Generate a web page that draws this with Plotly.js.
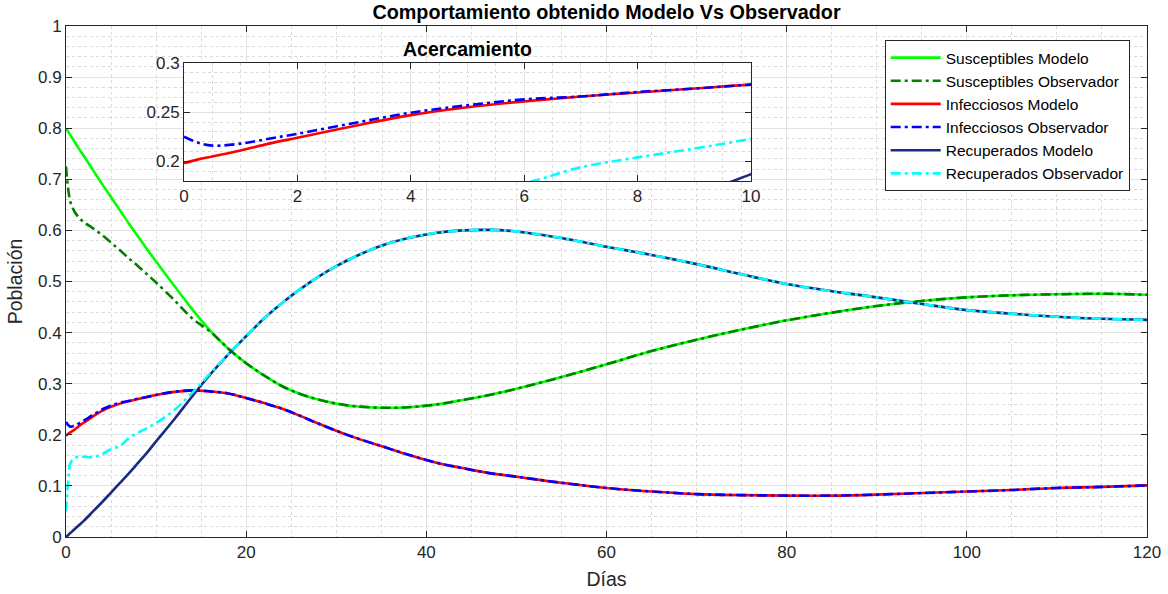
<!DOCTYPE html>
<html>
<head>
<meta charset="utf-8">
<script src="https://cdn.plot.ly/plotly-3.0.1.min.js"></script>
<style>html,body{margin:0;padding:0;background:#fff;}#chart{width:1168px;height:594px;}</style>
</head>
<body>
<div id="chart"></div>
<script>
// Time (días)
const dias = [0,0.25,0.5,1,1.5,2,3,4,5,6,7,8,9,10,12,14,16,18,20,22,24,26,28,30,32,35,38,41,44,47,50,55,60,65,70,75,80,85,90,95,100,105,110,115,120];

// Susceptibles
const susModelo = [0.800,0.793,0.786,0.772,0.758,0.745,0.718,0.691,0.665,0.639,0.613,0.588,0.563,0.539,0.492,0.446,0.404,0.369,0.340,0.316,0.295,0.280,0.269,0.261,0.256,0.253,0.254,0.259,0.268,0.278,0.290,0.313,0.338,0.364,0.386,0.406,0.424,0.439,0.452,0.462,0.469,0.473,0.475,0.476,0.474];
const susObservador = [0.725,0.680,0.655,0.635,0.624,0.616,0.604,0.591,0.576,0.561,0.545,0.530,0.514,0.498,0.464,0.428,0.402,0.369,0.340,0.316,0.295,0.280,0.269,0.261,0.256,0.253,0.254,0.259,0.268,0.278,0.290,0.313,0.338,0.364,0.386,0.406,0.424,0.439,0.452,0.462,0.469,0.473,0.475,0.476,0.474];

// Infecciosos
const infModelo = [0.198,0.202,0.205,0.211,0.218,0.224,0.236,0.247,0.255,0.261,0.266,0.270,0.274,0.278,0.284,0.287,0.285,0.281,0.272,0.262,0.251,0.237,0.222,0.208,0.195,0.178,0.161,0.146,0.135,0.125,0.118,0.106,0.096,0.089,0.084,0.082,0.081,0.081,0.083,0.086,0.089,0.092,0.096,0.098,0.101];
const infObservador = [0.225,0.219,0.216,0.218,0.223,0.228,0.239,0.2495,0.257,0.263,0.266,0.2705,0.274,0.278,0.284,0.287,0.285,0.281,0.272,0.262,0.251,0.237,0.222,0.208,0.195,0.178,0.161,0.146,0.135,0.125,0.118,0.106,0.096,0.089,0.084,0.082,0.081,0.081,0.083,0.086,0.089,0.092,0.096,0.098,0.101];

// Recuperados
const recModelo = [0.000,0.004,0.008,0.016,0.024,0.032,0.050,0.068,0.087,0.106,0.125,0.145,0.165,0.187,0.230,0.275,0.318,0.357,0.393,0.428,0.458,0.485,0.509,0.530,0.548,0.570,0.585,0.595,0.600,0.601,0.598,0.585,0.568,0.552,0.534,0.514,0.495,0.481,0.469,0.456,0.444,0.437,0.431,0.427,0.425];
const recObservador = [0.050,0.110,0.145,0.155,0.157,0.157,0.156,0.162,0.172,0.178,0.194,0.204,0.213,0.223,0.248,0.282,0.320,0.357,0.393,0.428,0.458,0.485,0.509,0.530,0.548,0.570,0.585,0.595,0.600,0.601,0.598,0.585,0.568,0.552,0.534,0.514,0.495,0.481,0.469,0.456,0.444,0.437,0.431,0.427,0.425];

const series = [
  {name:'Susceptibles Modelo', y:susModelo, color:'#00ff00', dash:'solid'},
  {name:'Susceptibles Observador', y:susObservador, color:'#008000', dash:'10px,4px,3px,4px'},
  {name:'Infecciosos Modelo', y:infModelo, color:'#ff0000', dash:'solid'},
  {name:'Infecciosos Observador', y:infObservador, color:'#0000ff', dash:'10px,4px,3px,4px'},
  {name:'Recuperados Modelo', y:recModelo, color:'#1a2a80', dash:'solid'},
  {name:'Recuperados Observador', y:recObservador, color:'#00ffff', dash:'10px,4px,3px,4px'}
];

const traces = [];
series.forEach(s => {
  traces.push({x:dias, y:s.y, name:s.name, type:'scatter', mode:'lines',
    line:{color:s.color, width:2.6, dash:s.dash, shape:'spline', smoothing:1},
    xaxis:'x', yaxis:'y', hoverinfo:'skip'});
});
series.forEach(s => {
  traces.push({x:dias, y:s.y, name:s.name, type:'scatter', mode:'lines', showlegend:false,
    line:{color:s.color, width:2.6, dash:s.dash, shape:'spline', smoothing:1},
    xaxis:'x2', yaxis:'y2', hoverinfo:'skip'});
});

const axColor = '#262626';
const font = 'Liberation Sans, Arial, Helvetica, sans-serif';
const minorGrid = '#dadada';
const common = {
  showline:true, linecolor:axColor, linewidth:1, mirror:'allticks',
  ticks:'inside', ticklen:6, tickcolor:axColor, tickwidth:1,
  showgrid:true, gridcolor:'#e2e2e2', gridwidth:1, zeroline:false,
  tickfont:{family:font, size:17, color:axColor}
};

const layout = {
  width:1168, height:594,
  margin:{l:66, r:21, t:26, b:57},
  paper_bgcolor:'#ffffff', plot_bgcolor:'#ffffff',
  font:{family:font, color:axColor},
  title:{text:'<b>Comportamiento obtenido Modelo Vs Observador</b>', font:{family:font, size:19.8, color:'#000'},
    x:0.5, xref:'paper', y:1-12/594, yanchor:'middle'},
  showlegend:true,
  legend:{x:0.984, xanchor:'right', y:0.9726, yanchor:'top', bgcolor:'#ffffff',
    bordercolor:axColor, borderwidth:1, itemwidth:50, font:{family:font, size:15.5, color:'#000'}},
  xaxis:Object.assign({}, common, {
    range:[0,120], dtick:20, tick0:0,
    minor:{dtick:5, showgrid:true, gridcolor:minorGrid, griddash:'dot', gridwidth:1},
    title:{text:'Días', font:{family:font, size:19.5, color:axColor}, standoff:10}
  }),
  yaxis:Object.assign({}, common, {
    range:[0,1], dtick:0.1, tick0:0,
    minor:{dtick:0.02, showgrid:true, gridcolor:minorGrid, griddash:'dot', gridwidth:1},
    title:{text:'Población', font:{family:font, size:19.5, color:axColor}, standoff:10}
  }),
  xaxis2:Object.assign({}, common, {
    domain:[(184-66)/1081, (751-66)/1081], anchor:'y2',
    range:[0,10], dtick:2, tick0:0,
    minor:{dtick:0.5, showgrid:true, gridcolor:minorGrid, griddash:'dot', gridwidth:1}
  }),
  yaxis2:Object.assign({}, common, {
    domain:[(537-181)/511, (537-63)/511], anchor:'x2',
    range:[0.18,0.3], dtick:0.05, tick0:0.2,
    minor:{dtick:0.01, showgrid:true, gridcolor:minorGrid, griddash:'dot', gridwidth:1}
  }),
  annotations:[{
    text:'<b>Acercamiento</b>', xref:'paper', yref:'paper',
    x:((184+751)/2-66)/1081, y:(537-49)/511, xanchor:'center', yanchor:'middle',
    showarrow:false, font:{family:font, size:19.5, color:'#000'}
  }]
};

Plotly.newPlot('chart', traces, layout, {displayModeBar:false, staticPlot:true});
</script>
</body>
</html>
